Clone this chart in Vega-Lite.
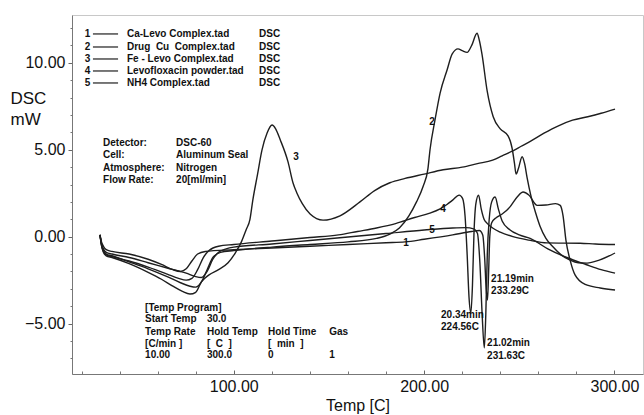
{
  "$schema": "https://vega.github.io/schema/vega-lite/v6.json",
  "width": 571,
  "height": 359,
  "autosize": {"type": "none"},
  "padding": {"left": 72, "top": 15, "right": 1, "bottom": 41},
  "background": "white",
  "config": {
    "font": "Liberation Sans",
    "view": {"stroke": "#c8c8c8", "strokeWidth": 1},
    "axis": {"grid": false}
  },
  "resolve": {"axis": {"x": "independent", "y": "independent"}},
  "datasets": {
    "curves": [
      {"s":"1","T":29.7,"V":0.1},{"s":"1","T":30.5,"V":-0.3},{"s":"1","T":31.5,"V":-0.55},{"s":"1","T":33,"V":-0.75},{"s":"1","T":36,"V":-0.85},{"s":"1","T":45,"V":-1.0},{"s":"1","T":55,"V":-1.3},{"s":"1","T":62,"V":-1.6},{"s":"1","T":68,"V":-1.9},{"s":"1","T":72,"V":-2.0},{"s":"1","T":75,"V":-1.85},{"s":"1","T":78,"V":-1.4},{"s":"1","T":81,"V":-1.0},{"s":"1","T":85,"V":-0.85},{"s":"1","T":100,"V":-0.75},{"s":"1","T":120,"V":-0.65},{"s":"1","T":140,"V":-0.55},{"s":"1","T":160,"V":-0.45},{"s":"1","T":180,"V":-0.35},{"s":"1","T":190,"V":-0.3},{"s":"1","T":200,"V":-0.15},{"s":"1","T":215,"V":0.1},{"s":"1","T":225,"V":0.3},{"s":"1","T":229,"V":0.35},{"s":"1","T":230.8,"V":0.1},{"s":"1","T":231.8,"V":-1.2},{"s":"1","T":232.6,"V":-3.0},{"s":"1","T":233.29,"V":-3.65},{"s":"1","T":233.9,"V":-2.0},{"s":"1","T":234.5,"V":0.0},{"s":"1","T":235.5,"V":0.8},{"s":"1","T":238,"V":1.1},{"s":"1","T":241,"V":1.3},{"s":"1","T":245,"V":1.7},{"s":"1","T":249,"V":2.3},{"s":"1","T":252,"V":2.57},{"s":"1","T":255,"V":2.4},{"s":"1","T":259.4,"V":1.8},{"s":"1","T":264,"V":1.82},{"s":"1","T":269,"V":1.9},{"s":"1","T":271.5,"V":1.8},{"s":"1","T":273,"V":1.2},{"s":"1","T":274.5,"V":-0.2},{"s":"1","T":276.7,"V":-1.35},{"s":"1","T":279.3,"V":-2.2},{"s":"1","T":284.6,"V":-2.75},{"s":"1","T":292.5,"V":-2.95},{"s":"1","T":300.3,"V":-3.07},

      {"s":"2","T":29.7,"V":0.1},{"s":"2","T":30.5,"V":-0.45},{"s":"2","T":31.5,"V":-0.8},{"s":"2","T":33,"V":-1.0},{"s":"2","T":36,"V":-1.1},{"s":"2","T":45,"V":-1.45},{"s":"2","T":55,"V":-1.85},{"s":"2","T":65,"V":-2.3},{"s":"2","T":72,"V":-2.65},{"s":"2","T":77,"V":-2.85},{"s":"2","T":80,"V":-2.9},{"s":"2","T":83,"V":-2.6},{"s":"2","T":86,"V":-1.9},{"s":"2","T":89,"V":-1.2},{"s":"2","T":93,"V":-0.9},{"s":"2","T":100,"V":-0.8},{"s":"2","T":120,"V":-0.6},{"s":"2","T":140,"V":-0.45},{"s":"2","T":160,"V":-0.3},{"s":"2","T":175,"V":-0.1},{"s":"2","T":182,"V":0.15},{"s":"2","T":187,"V":0.5},{"s":"2","T":192,"V":1.2},{"s":"2","T":196,"V":2.0},{"s":"2","T":199.5,"V":2.9},{"s":"2","T":202,"V":3.9},{"s":"2","T":203.1,"V":5.0},{"s":"2","T":205.7,"V":6.7},{"s":"2","T":208.4,"V":8.26},{"s":"2","T":212.1,"V":9.6},{"s":"2","T":214.7,"V":10.5},{"s":"2","T":217.8,"V":10.8},{"s":"2","T":220,"V":10.7},{"s":"2","T":222.6,"V":10.6},{"s":"2","T":225,"V":11.0},{"s":"2","T":227.8,"V":11.7},{"s":"2","T":229,"V":11.3},{"s":"2","T":230.4,"V":10.5},{"s":"2","T":233.1,"V":8.4},{"s":"2","T":236.3,"V":6.9},{"s":"2","T":240,"V":6.2},{"s":"2","T":244.1,"V":5.8},{"s":"2","T":246.2,"V":5.1},{"s":"2","T":247.5,"V":4.2},{"s":"2","T":248.3,"V":3.6},{"s":"2","T":249.5,"V":3.9},{"s":"2","T":251.5,"V":4.6},{"s":"2","T":252.8,"V":4.2},{"s":"2","T":254.1,"V":3.4},{"s":"2","T":256,"V":2.4},{"s":"2","T":258.5,"V":1.4},{"s":"2","T":260.9,"V":0.6},{"s":"2","T":264,"V":-0.1},{"s":"2","T":267.8,"V":-0.6},{"s":"2","T":272,"V":-1.05},{"s":"2","T":276.7,"V":-1.35},{"s":"2","T":281,"V":-1.5},{"s":"2","T":285.6,"V":-1.52},{"s":"2","T":292,"V":-1.35},{"s":"2","T":300.3,"V":-0.94},

      {"s":"3","T":29.7,"V":0.1},{"s":"3","T":30.5,"V":-0.5},{"s":"3","T":31.5,"V":-0.9},{"s":"3","T":33,"V":-1.1},{"s":"3","T":36,"V":-1.2},{"s":"3","T":45,"V":-1.55},{"s":"3","T":55,"V":-2.05},{"s":"3","T":62,"V":-2.45},{"s":"3","T":68,"V":-2.85},{"s":"3","T":73,"V":-3.15},{"s":"3","T":77,"V":-3.3},{"s":"3","T":80,"V":-3.2},{"s":"3","T":83,"V":-2.6},{"s":"3","T":87,"V":-2.2},{"s":"3","T":92,"V":-1.9},{"s":"3","T":97,"V":-1.5},{"s":"3","T":101,"V":-0.9},{"s":"3","T":104,"V":-0.3},{"s":"3","T":106.5,"V":0.4},{"s":"3","T":108.5,"V":1.0},{"s":"3","T":110,"V":2.1},{"s":"3","T":112.5,"V":3.6},{"s":"3","T":114.8,"V":4.98},{"s":"3","T":117.5,"V":5.96},{"s":"3","T":120.1,"V":6.42},{"s":"3","T":122,"V":6.2},{"s":"3","T":124.3,"V":5.6},{"s":"3","T":128.5,"V":4.3},{"s":"3","T":131.1,"V":3.1},{"s":"3","T":133.2,"V":2.5},{"s":"3","T":136,"V":1.9},{"s":"3","T":140.1,"V":1.3},{"s":"3","T":146.9,"V":0.95},{"s":"3","T":155.8,"V":1.2},{"s":"3","T":166.3,"V":2.0},{"s":"3","T":174,"V":2.65},{"s":"3","T":182,"V":3.1},{"s":"3","T":190,"V":3.35},{"s":"3","T":200,"V":3.6},{"s":"3","T":210,"V":3.85},{"s":"3","T":220,"V":4.0},{"s":"3","T":228,"V":4.2},{"s":"3","T":236,"V":4.4},{"s":"3","T":241,"V":4.65},{"s":"3","T":246,"V":4.9},{"s":"3","T":251,"V":5.2},{"s":"3","T":256,"V":5.5},{"s":"3","T":263,"V":5.95},{"s":"3","T":270,"V":6.35},{"s":"3","T":278,"V":6.7},{"s":"3","T":286,"V":6.9},{"s":"3","T":293,"V":7.1},{"s":"3","T":300.3,"V":7.34},

      {"s":"4","T":29.7,"V":0.1},{"s":"4","T":30.5,"V":-0.5},{"s":"4","T":31.5,"V":-0.85},{"s":"4","T":33,"V":-1.05},{"s":"4","T":36,"V":-1.15},{"s":"4","T":45,"V":-1.4},{"s":"4","T":55,"V":-1.75},{"s":"4","T":65,"V":-2.15},{"s":"4","T":71,"V":-2.4},{"s":"4","T":75,"V":-2.5},{"s":"4","T":78,"V":-2.4},{"s":"4","T":81,"V":-1.9},{"s":"4","T":84,"V":-1.2},{"s":"4","T":87,"V":-0.8},{"s":"4","T":92,"V":-0.55},{"s":"4","T":100,"V":-0.45},{"s":"4","T":120,"V":-0.25},{"s":"4","T":140,"V":-0.05},{"s":"4","T":155,"V":0.1},{"s":"4","T":165,"V":0.3},{"s":"4","T":175,"V":0.5},{"s":"4","T":185,"V":0.75},{"s":"4","T":195,"V":1.1},{"s":"4","T":203,"V":1.35},{"s":"4","T":208.4,"V":1.6},{"s":"4","T":212,"V":1.85},{"s":"4","T":215,"V":2.1},{"s":"4","T":218.4,"V":2.39},{"s":"4","T":220.2,"V":2.2},{"s":"4","T":221.5,"V":1.2},{"s":"4","T":222.6,"V":-1.0},{"s":"4","T":223.6,"V":-3.5},{"s":"4","T":224.56,"V":-4.4},{"s":"4","T":225.4,"V":-2.8},{"s":"4","T":226.2,"V":0.2},{"s":"4","T":227.2,"V":1.9},{"s":"4","T":228.6,"V":2.39},{"s":"4","T":230,"V":1.6},{"s":"4","T":231.5,"V":1.0},{"s":"4","T":233,"V":0.78},{"s":"4","T":236,"V":0.5},{"s":"4","T":240,"V":0.26},{"s":"4","T":246.7,"V":0.0},{"s":"4","T":255,"V":-0.2},{"s":"4","T":264.6,"V":-0.36},{"s":"4","T":282,"V":-0.38},{"s":"4","T":290,"V":-0.42},{"s":"4","T":300.3,"V":-0.45},

      {"s":"5","T":29.7,"V":0.1},{"s":"5","T":30.5,"V":-0.4},{"s":"5","T":31.5,"V":-0.7},{"s":"5","T":33,"V":-0.9},{"s":"5","T":36,"V":-1.0},{"s":"5","T":45,"V":-1.2},{"s":"5","T":55,"V":-1.5},{"s":"5","T":65,"V":-1.8},{"s":"5","T":75,"V":-2.1},{"s":"5","T":80,"V":-2.3},{"s":"5","T":83,"V":-2.35},{"s":"5","T":86,"V":-2.0},{"s":"5","T":89,"V":-1.3},{"s":"5","T":92,"V":-0.9},{"s":"5","T":96,"V":-0.7},{"s":"5","T":100,"V":-0.6},{"s":"5","T":120,"V":-0.42},{"s":"5","T":140,"V":-0.22},{"s":"5","T":160,"V":-0.02},{"s":"5","T":180,"V":0.18},{"s":"5","T":200,"V":0.38},{"s":"5","T":215,"V":0.5},{"s":"5","T":222,"V":0.52},{"s":"5","T":226,"V":0.45},{"s":"5","T":228,"V":0.2},{"s":"5","T":229.3,"V":-1.5},{"s":"5","T":230.5,"V":-4.5},{"s":"5","T":231.63,"V":-6.4},{"s":"5","T":232.4,"V":-4.5},{"s":"5","T":233.2,"V":-1.0},{"s":"5","T":234.2,"V":1.0},{"s":"5","T":235.5,"V":2.0},{"s":"5","T":237.3,"V":2.28},{"s":"5","T":239,"V":1.6},{"s":"5","T":241,"V":0.9},{"s":"5","T":245,"V":0.4},{"s":"5","T":250,"V":0.1},{"s":"5","T":255.7,"V":-0.1},{"s":"5","T":265,"V":-0.7},{"s":"5","T":275,"V":-1.2},{"s":"5","T":285,"V":-1.6},{"s":"5","T":293,"V":-1.9},{"s":"5","T":300.3,"V":-2.1}
    ],
    "legendLines": [
      {"a":26.0,"b":39.2,"V":11.66},{"a":26.0,"b":39.2,"V":10.91},{"a":26.0,"b":39.2,"V":10.22},{"a":26.0,"b":39.2,"V":9.53},{"a":26.0,"b":39.2,"V":8.84}
    ],
    "centerText": [
      {"T":23.1,"V":11.66,"txt":"1"},{"T":23.1,"V":10.91,"txt":"2"},{"T":23.1,"V":10.22,"txt":"3"},{"T":23.1,"V":9.53,"txt":"4"},{"T":23.1,"V":8.84,"txt":"5"},
      {"T":132.7,"V":4.58,"txt":"3"},{"T":204.2,"V":6.59,"txt":"2"},{"T":210,"V":1.59,"txt":"4"},{"T":204.2,"V":0.38,"txt":"5"},{"T":190.5,"V":-0.37,"txt":"1"}
    ],
    "leftText": [
      {"T":43.9,"V":11.66,"txt":"Ca-Levo Complex.tad"},
      {"T":43.9,"V":10.91,"txt":"Drug\u00a0 Cu\u00a0 Complex.tad"},
      {"T":43.9,"V":10.22,"txt":"Fe - Levo Complex.tad"},
      {"T":43.9,"V":9.53,"txt":"Levofloxacin powder.tad"},
      {"T":43.9,"V":8.84,"txt":"NH4 Complex.tad"},
      {"T":113.3,"V":11.66,"txt":"DSC"},{"T":113.3,"V":10.91,"txt":"DSC"},{"T":113.3,"V":10.22,"txt":"DSC"},{"T":113.3,"V":9.53,"txt":"DSC"},{"T":113.3,"V":8.84,"txt":"DSC"},
      {"T":31.3,"V":5.39,"txt":"Detector:"},{"T":31.3,"V":4.69,"txt":"Cell:"},{"T":31.3,"V":3.95,"txt":"Atmosphere:"},{"T":31.3,"V":3.26,"txt":"Flow Rate:"},
      {"T":69.7,"V":5.39,"txt":"DSC-60"},{"T":69.7,"V":4.69,"txt":"Aluminum Seal"},{"T":69.7,"V":3.95,"txt":"Nitrogen"},{"T":69.7,"V":3.26,"txt":"20[ml/min]"},
      {"T":53.4,"V":-4.11,"txt":"[Temp Program]"},
      {"T":53.4,"V":-4.74,"txt":"Start Temp"},{"T":85.9,"V":-4.74,"txt":"30.0"},
      {"T":53.4,"V":-5.49,"txt":"Temp Rate"},{"T":85.9,"V":-5.49,"txt":"Hold Temp"},{"T":118.0,"V":-5.49,"txt":"Hold Time"},{"T":150.1,"V":-5.49,"txt":"Gas"},
      {"T":53.4,"V":-6.18,"txt":"[C/min ]"},{"T":85.9,"V":-6.18,"txt":"[\u00a0 C\u00a0 ]"},{"T":118.0,"V":-6.18,"txt":"[\u00a0 min\u00a0 ]"},
      {"T":53.4,"V":-6.81,"txt":"10.00"},{"T":85.9,"V":-6.81,"txt":"300.0"},{"T":118.0,"V":-6.81,"txt":"0"},{"T":150.1,"V":-6.81,"txt":"1"},
      {"T":208.9,"V":-4.51,"txt":"20.34min"},{"T":208.9,"V":-5.2,"txt":"224.56C"},
      {"T":235.2,"V":-2.44,"txt":"21.19min"},{"T":235.2,"V":-3.13,"txt":"233.29C"},
      {"T":233.1,"V":-6.12,"txt":"21.02min"},{"T":233.1,"V":-6.87,"txt":"231.63C"}
    ]
  },
  "layer": [
    {
      "data": {"name": "curves"},
      "mark": {"type": "line", "color": "#1e1e1e", "strokeWidth": 1.4, "interpolate": "monotone"},
      "encoding": {
        "x": {
          "field": "T", "type": "quantitative",
          "scale": {"domain": [15, 315], "nice": false, "zero": false},
          "axis": {
            "orient": "bottom",
            "values": [100, 200, 300],
            "format": ".2f",
            "labelOverlap": false,
            "tickSize": -4,
            "tickColor": "#666", "domainColor": "#777",
            "labelFontSize": 16, "labelColor": "#111", "labelPadding": 8, "labelFlush": false,
            "title": "Temp  [C]", "titleFontSize": 16, "titleFontWeight": "normal", "titleColor": "#111",
            "titleBaseline": "middle", "titleY": 31
          }
        },
        "y": {
          "field": "V", "type": "quantitative",
          "scale": {"domain": [-7.9, 12.75], "nice": false, "zero": false},
          "axis": {
            "orient": "left",
            "values": [-5, 0, 5, 10],
            "format": ".2f",
            "labelOverlap": false,
            "tickSize": 4,
            "tickColor": "#666", "domainColor": "#777",
            "labelFontSize": 16, "labelColor": "#111", "labelPadding": 3,
            "title": ["DSC", "mW"], "titleAngle": 0, "titleAlign": "left", "titleBaseline": "top",
            "titleX": -62, "titleY": 75, "titleFontSize": 17, "titleFontWeight": "normal", "titleColor": "#111",
            "titleLineHeight": 21
          }
        },
        "detail": {"field": "s"}
      }
    },
    {
      "data": {"name": "legendLines"},
      "mark": {"type": "rule", "color": "#1e1e1e", "strokeWidth": 1.2},
      "encoding": {
        "x": {"field": "a", "type": "quantitative", "axis": {
          "orient": "bottom", "values": [20,40,60,80,120,140,160,180,220,240,260,280],
          "labels": false, "domain": false, "ticks": true, "tickSize": -3, "tickColor": "#777", "title": null, "offset": 0
        }},
        "x2": {"field": "b"},
        "y": {"field": "V", "type": "quantitative", "axis": {
          "orient": "left", "values": [-7,-6,-4,-3,-2,-1,1,2,3,4,6,7,8,9,11,12],
          "labels": false, "domain": false, "ticks": true, "tickSize": 2, "tickColor": "#777", "title": null, "offset": 0
        }}
      }
    },
    {
      "data": {"name": "centerText"},
      "mark": {"type": "text", "font": "Liberation Sans", "fontWeight": "bold", "fontSize": 10, "align": "center", "baseline": "middle", "color": "#111"},
      "encoding": {
        "x": {"field": "T", "type": "quantitative", "axis": null},
        "y": {"field": "V", "type": "quantitative", "axis": null},
        "text": {"field": "txt"}
      }
    },
    {
      "data": {"name": "leftText"},
      "mark": {"type": "text", "font": "Liberation Sans", "fontWeight": "bold", "fontSize": 10, "align": "left", "baseline": "middle", "color": "#111"},
      "encoding": {
        "x": {"field": "T", "type": "quantitative", "axis": null},
        "y": {"field": "V", "type": "quantitative", "axis": null},
        "text": {"field": "txt"}
      }
    }
  ]
}
